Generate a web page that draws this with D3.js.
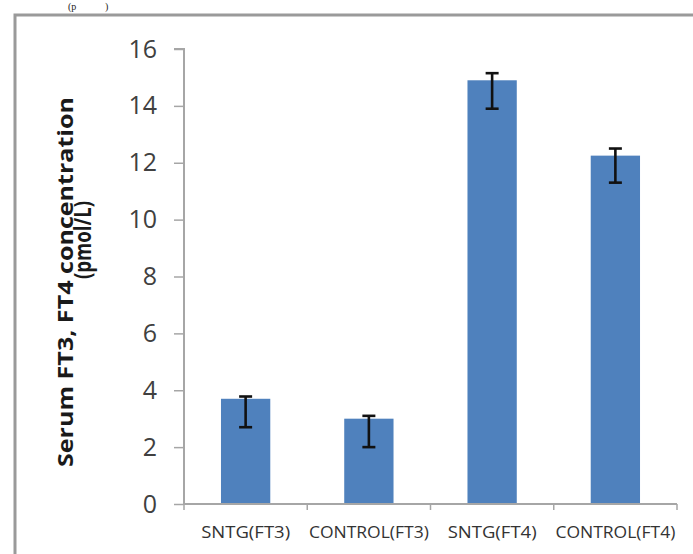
<!DOCTYPE html>
<html>
<head>
<meta charset="utf-8">
<script src="https://cdn.jsdelivr.net/npm/d3@7"></script>
<style>
  html, body { margin: 0; padding: 0; background: #fff; }
  svg { display: block; }
</style>
</head>
<body>
<svg id="chart" width="693" height="554"></svg>
<script>
// ---- data ----
const categories = ["SNTG(FT3)", "CONTROL(FT3)", "SNTG(FT4)", "CONTROL(FT4)"];
const values = [3.7, 3.0, 14.9, 12.25];
const errUpper = [3.78, 3.1, 15.15, 12.5];
const errLower = [2.7, 2.0, 13.9, 11.3];
const yTicks = [0, 2, 4, 6, 8, 10, 12, 14, 16];
const yTitleLine1 = "Serum FT3, FT4 concentration";
const yTitleLine2 = "(pmol/L)";

// ---- layout ----
const W = 693, H = 554;
const plot = { left: 184, right: 677, top: 49, bottom: 504 };
const barColor = "#4F81BD";
const axisColor = "#a6a6a6";
const textColor = "#404040";

const svg = d3.select("#chart");
svg.append("rect").attr("width", W).attr("height", H).attr("fill", "#fff");

// caption fragment at very top
svg.append("text").attr("x", 68).attr("y", 10)
  .attr("font-family", "Liberation Serif, serif").attr("font-size", 10)
  .attr("fill", "#222").text("(p");
svg.append("text").attr("x", 105).attr("y", 10)
  .attr("font-family", "Liberation Serif, serif").attr("font-size", 10)
  .attr("fill", "#222").text(")");

// outer frame
svg.append("rect").attr("x", 15).attr("y", 15)
  .attr("width", W + 20).attr("height", H + 20)
  .attr("fill", "none").attr("stroke", "#9a9a9a").attr("stroke-width", 3);

const x = d3.scaleBand().domain(categories)
  .range([plot.left, plot.right]).paddingInner(0.6).paddingOuter(0.3);
const y = d3.scaleLinear().domain([0, 16]).range([plot.bottom, plot.top]);

// bars
svg.append("g").selectAll("rect").data(categories).join("rect")
  .attr("x", d => x(d))
  .attr("width", x.bandwidth())
  .attr("y", (d, i) => y(values[i]))
  .attr("height", (d, i) => y(0) - y(values[i]))
  .attr("fill", barColor);

// error bars
const eg = svg.append("g").attr("stroke", "#111").attr("stroke-width", 2.6).attr("fill", "none");
categories.forEach((c, i) => {
  const cx = x(c) + x.bandwidth() / 2;
  const hw = 6.5;
  eg.append("line").attr("x1", cx).attr("x2", cx).attr("y1", y(errUpper[i])).attr("y2", y(errLower[i]));
  eg.append("line").attr("x1", cx - hw).attr("x2", cx + hw).attr("y1", y(errUpper[i])).attr("y2", y(errUpper[i]));
  eg.append("line").attr("x1", cx - hw).attr("x2", cx + hw).attr("y1", y(errLower[i])).attr("y2", y(errLower[i]));
});

// y axis
const yAxis = d3.axisLeft(y).tickValues(yTicks).tickSize(10).tickPadding(17).tickFormat(d3.format("d"));
const yg = svg.append("g").attr("transform", `translate(${plot.left},0)`).call(yAxis);
yg.select(".domain").attr("stroke", axisColor).attr("stroke-width", 2).attr("d", `M-10,${plot.top}H0V${plot.bottom}`);
yg.selectAll(".tick line").attr("stroke", axisColor).attr("stroke-width", 1.5);
yg.selectAll(".tick text").attr("fill", textColor)
  .attr("font-family", "Open Sans, sans-serif").attr("font-size", 25);

// x axis
const xAxis = d3.axisBottom(x).tickSize(0).tickPadding(22);
const xg = svg.append("g").attr("transform", `translate(0,${plot.bottom})`).call(xAxis);
xg.select(".domain").attr("stroke", axisColor).attr("stroke-width", 2).attr("d", `M${plot.left},0H${plot.right}`);
xg.selectAll(".tick text").attr("fill", "#333")
  .attr("font-family", "Open Sans, sans-serif").attr("font-size", 17)
  .attr("textLength", d => d.startsWith("SNTG") ? 89 : 120)
  .attr("lengthAdjust", "spacingAndGlyphs");
// category boundary ticks
const step = x.step();
const bounds = d3.range(categories.length + 1).map(k => plot.left + k * step);
xg.append("g").selectAll("line").data(bounds).join("line")
  .attr("x1", d => d).attr("x2", d => d).attr("y1", 0).attr("y2", 6)
  .attr("stroke", axisColor).attr("stroke-width", 1.5);

// y-axis title
svg.append("text")
  .attr("transform", `translate(73,282) rotate(-90)`)
  .attr("text-anchor", "middle")
  .attr("font-family", "Open Sans, sans-serif").attr("font-weight", "bold")
  .attr("font-size", 21).attr("fill", "#1a1a1a")
  .attr("textLength", 370).attr("lengthAdjust", "spacingAndGlyphs")
  .text(yTitleLine1);
svg.append("text")
  .attr("transform", `translate(91,240) rotate(-90)`)
  .attr("text-anchor", "middle")
  .attr("font-family", "Open Sans, sans-serif").attr("font-weight", "bold")
  .attr("font-size", 23).attr("fill", "#1a1a1a")
  .attr("textLength", 78).attr("lengthAdjust", "spacingAndGlyphs")
  .text(yTitleLine2);
</script>
</body>
</html>
